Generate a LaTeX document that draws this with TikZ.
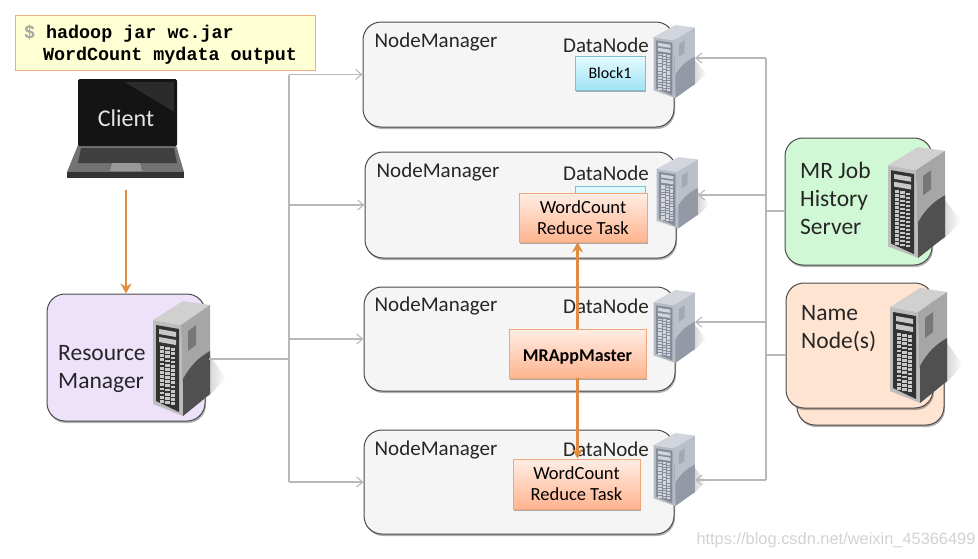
\documentclass[tikz,border=0pt]{standalone}
\usepackage{fontspec}
\setmainfont{Carlito}
\newfontfamily\codefont{Liberation Mono}
\newfontfamily\markfont{Liberation Sans}
\usetikzlibrary{arrows.meta,shadows,fadings}
\definecolor{edgegrey}{HTML}{B8B8B8}
\definecolor{edgeorange}{HTML}{E08B3E}
\definecolor{boxline}{HTML}{4A4A4A}
\definecolor{rmfill}{HTML}{EEE2FB}
\definecolor{hsfill}{HTML}{D0F8D4}
\definecolor{nnfill}{HTML}{FFE4D2}
\definecolor{cmdfill}{HTML}{FFFFD4}
\definecolor{cmdline}{HTML}{EDB07A}
\definecolor{tasktop}{HTML}{FFEDE4}
\definecolor{tasklow}{HTML}{FFB48F}
\definecolor{taskline}{HTML}{EFA678}
\definecolor{blocktop}{HTML}{E6FBFF}
\definecolor{blocklow}{HTML}{9FE3F5}
\definecolor{blockline}{HTML}{7CBFD0}
\definecolor{darktop}{HTML}{D0D0D0}
\definecolor{darkside}{HTML}{A6A6A6}
\definecolor{darklow}{HTML}{505050}
\definecolor{darkvent}{HTML}{777777}
\definecolor{darkfront}{HTML}{BDBDBD}
\definecolor{darkpanel}{HTML}{333333}
\definecolor{darkdots}{HTML}{C8C8C8}
\definecolor{paletop}{HTML}{D2D6DC}
\definecolor{paleside}{HTML}{BAC0C9}
\definecolor{palelow}{HTML}{939AA6}
\definecolor{palevent}{HTML}{A2A9B3}
\definecolor{palefront}{HTML}{B6BCC5}
\definecolor{palepanel}{HTML}{868D99}
\definecolor{paledots}{HTML}{D3D7DD}
% tower computer, 58 wide and 115 high; #1 is dark or pale
\newcommand{\TowerBody}[1]{
\fill[gray,opacity=.35,path fading=east] (56,52) -- (74,77) -- (56,96) -- cycle;
\fill[#1front] (1,19) -- (29,24) -- (31,115) -- (1,103) -- cycle;
\fill[#1top] (1,19) -- (31,0) -- (58,4) -- (29,24) -- cycle;
\fill[#1side] (29,24) -- (58,4) -- (58,93) -- (31,115) -- cycle;
\fill[#1low] (31,78) .. controls (40,62) and (48,56) .. (58,50) -- (58,93) -- (31,115) -- cycle;
\fill[#1vent] (36,30) -- (44,24) -- (44,44) -- (36,50) -- cycle;
\fill[#1panel] (4,24) -- (27,28) -- (27,111) -- (4,100) -- cycle;
\fill[#1dots] (7,28) -- (24,31) -- (24,36) -- (7,33) -- cycle;
\fill[#1dots] (7,36) -- (24,39) -- (24,44) -- (7,41) -- cycle;
\foreach \u in {0,1,2} {
\foreach \v in {0,...,13} {
\fill[#1dots] ({7.5+5.8*\u},{45+4.15*\v+1.1*\u}) rectangle ++(4.3,2.8);
}
}
}
\tikzset{
pics/towerdark/.style={code={\TowerBody{dark}}},
pics/towerpale/.style={code={\TowerBody{pale}}},
plainspaces/.style={execute at begin node={\spaceskip=0pt\relax}},
softshadow/.style={drop shadow={shadow xshift=1pt,shadow yshift=-2pt,opacity=.3,fill=black}},
hostbox/.style={draw=boxline,line width=1pt,rounded corners=18pt,fill=#1,softshadow,inner sep=0pt},
hostbox/.default={black!4},
taskbox/.style={draw=taskline,line width=.8pt,top color=tasktop,bottom color=tasklow,softshadow,inner sep=0pt,font=\fontsize{18.5}{21}\selectfont,align=center,execute at begin node={\spaceskip=0pt\relax\rule{0pt}{18pt}}},
blockbox/.style={draw=blockline,line width=.8pt,top color=blocktop,bottom color=blocklow,softshadow,inner sep=0pt,font=\fontsize{16}{20}\selectfont},
hostlabel/.style={inner sep=0pt,font=\fontsize{21}{24}\selectfont,text=black!85},
serverlabel/.style={inner sep=0pt,anchor=west,align=left,font=\fontsize{23.5}{28}\selectfont,text=black!85,plainspaces},
feedline/.style={draw=edgegrey,line width=1.1pt},
feedarrow/.style={feedline,-{Straight Barb[length=6pt,width=10pt,line width=1.1pt]}},
jobarrow/.style={draw=edgeorange,line width=2.8pt,-{Stealth[length=10pt,width=11pt]}},
}
\begin{document}
\begin{tikzpicture}[x=1pt,y=-1pt]
\useasboundingbox (0,0) rectangle (978,558);
\node[draw=cmdline,line width=1pt,fill=cmdfill,minimum width=300pt,minimum height=55pt,text width=290pt,align=left,inner sep=0pt,plainspaces,font=\codefont\bfseries\fontsize{18.4}{22}\selectfont] (CMD) at (165,42.5) {\rule{0pt}{18pt}\hspace*{4pt}{\color{gray!70}\$} hadoop jar wc.jar\\\hspace*{23pt}WordCount mydata output};
%laptop
\fill[black!55] (78,145) -- (176,145) -- (184,172) -- (67,172) -- cycle;
\fill[black!75] (81,148) -- (174,148) -- (177,163) -- (78,163) -- cycle;
\fill[black!40] (112,163) -- (140,163) -- (142,171) -- (110,171) -- cycle;
\fill[black!80] (67,172) -- (184,172) -- (184,178) -- (67,178) -- cycle;
\node[fill=black!92,rounded corners=1.5pt,minimum width=99pt,minimum height=67pt,inner sep=0pt] (CL) at (127.5,112.5) {};
\fill[white,opacity=.1] (CL.north east) ++(-3,3) -- ++(0,30) -- ++(-50,-30) -- cycle;
\node[inner sep=0pt,text=white!90!black,font=\fontsize{24}{28}\selectfont] (CL_text) at (126,118) {Client};
\coordinate (CL_out) at (126,190);
%resource manager
\node[hostbox=rmfill,minimum width=158pt,minimum height=127pt] (RM) at (126,357.5) {};
\pic at (152,301) {towerdark};
\node[serverlabel] (RM_text) at (58,369) {Resource\\Manager};
\coordinate (RM_out) at (209,359);
%node managers
\node[hostbox,minimum width=311pt,minimum height=105pt] (NM_1) at (518.5,74.5) {};
\node[hostbox,minimum width=311pt,minimum height=106pt] (NM_2) at (520.5,205) {};
\node[hostbox,minimum width=311pt,minimum height=104pt] (NM_3) at (519.5,339) {};
\node[hostbox,minimum width=310pt,minimum height=104pt] (NM_4) at (519,482) {};
\node[hostlabel] (NM_1_text) at (436,42.5) {NodeManager};
\node[hostlabel] (NM_2_text) at (438,172.5) {NodeManager};
\node[hostlabel] (NM_3_text) at (436,306.5) {NodeManager};
\node[hostlabel] (NM_4_text) at (436,450.5) {NodeManager};
\node[hostlabel] (DN_1_text) at (606,45.5) {DataNode};
\node[hostlabel] (DN_2_text) at (606,173.5) {DataNode};
\node[hostlabel] (DN_3_text) at (606,306.5) {DataNode};
\node[hostlabel] (DN_4_text) at (606,449.5) {DataNode};
\pic[xscale=.72,yscale=.635] at (653,25) {towerpale};
\pic[xscale=.72,yscale=.62] at (656,157) {towerpale};
\pic[xscale=.72,yscale=.635] at (653,290) {towerpale};
\pic[xscale=.72,yscale=.635] at (653,433) {towerpale};
\node[blockbox,minimum width=70pt,minimum height=34pt] (BL_1) at (610,73) {Block1};
\node[blockbox,minimum width=70pt,minimum height=30pt] (BL_2) at (610,201) {};
\node[taskbox,minimum width=128pt,minimum height=49pt] (WC_1) at (583,217.5) {WordCount\\Reduce Task};
\node[taskbox,minimum width=137pt,minimum height=49pt,font=\fontsize{18}{21}\selectfont\bfseries] (AM) at (577.5,353.5) {MRAppMaster};
\node[taskbox,minimum width=127pt,minimum height=50pt] (WC_2) at (576.5,484) {WordCount\\Reduce Task};
%history and name servers
\node[hostbox=hsfill,minimum width=147pt,minimum height=127pt] (HS) at (858.5,201.5) {};
\pic[yscale=.965] at (887,147) {towerdark};
\node[serverlabel] (HS_text) at (800,198.5) {MR Job\\History\\Server};
\node[hostbox=nnfill,minimum width=147pt,minimum height=125pt] (NN_back) at (870.5,362.5) {};
\node[hostbox=nnfill,minimum width=147pt,minimum height=125pt] (NN) at (859.5,345.5) {};
\pic at (889,288) {towerdark};
\node[serverlabel] (NN_text) at (801,329) {Name\\Node(s)};
%left trunk
\coordinate (TL_1) at (289,74.5);
\coordinate (TL_2) at (289,205);
\coordinate (TL_3) at (289,339);
\coordinate (TL_4) at (289,482);
\coordinate (TL_rm) at (289,359);
\draw[feedline] (TL_1) -- (TL_4);
\draw[feedline] (RM_out) -- (TL_rm);
\draw[feedarrow] (TL_1) -- (NM_1.west);
\draw[feedarrow] (TL_2) -- (NM_2.west);
\draw[feedarrow] (TL_3) -- (NM_3.west);
\draw[feedarrow] (TL_4) -- (NM_4.west);
%right trunk
\coordinate (TR_1) at (766,58);
\coordinate (TR_2) at (766,195);
\coordinate (TR_3) at (766,322);
\coordinate (TR_4) at (766,480);
\coordinate (TR_hs) at (766,211);
\coordinate (TR_nn) at (766,355);
\coordinate (DN_1) at (695,58);
\coordinate (DN_2) at (698,195);
\coordinate (DN_3) at (695,322);
\coordinate (DN_4) at (695,480);
\draw[feedline] (TR_1) -- (TR_4);
\draw[feedline] (TR_hs) -- (HS.west |- TR_hs);
\draw[feedline] (TR_nn) -- (NN.west |- TR_nn);
\draw[feedarrow] (TR_1) -- (DN_1);
\draw[feedarrow] (TR_2) -- (DN_2);
\draw[feedarrow] (TR_3) -- (DN_3);
\draw[feedarrow] (TR_4) -- (DN_4);
%job start
\draw[jobarrow] (CL_out) -- (RM.north);
\draw[jobarrow] (AM.north) -- (AM.north |- WC_1.south);
\draw[jobarrow] (AM.south) -- (AM.south |- WC_2.north);
\node[inner sep=0pt,text=gray!35,font=\markfont\fontsize{16.4}{18}\selectfont] (MARK) at (836,540) {https://blog.csdn.net/weixin\_45366499};
\end{tikzpicture}
\end{document}
